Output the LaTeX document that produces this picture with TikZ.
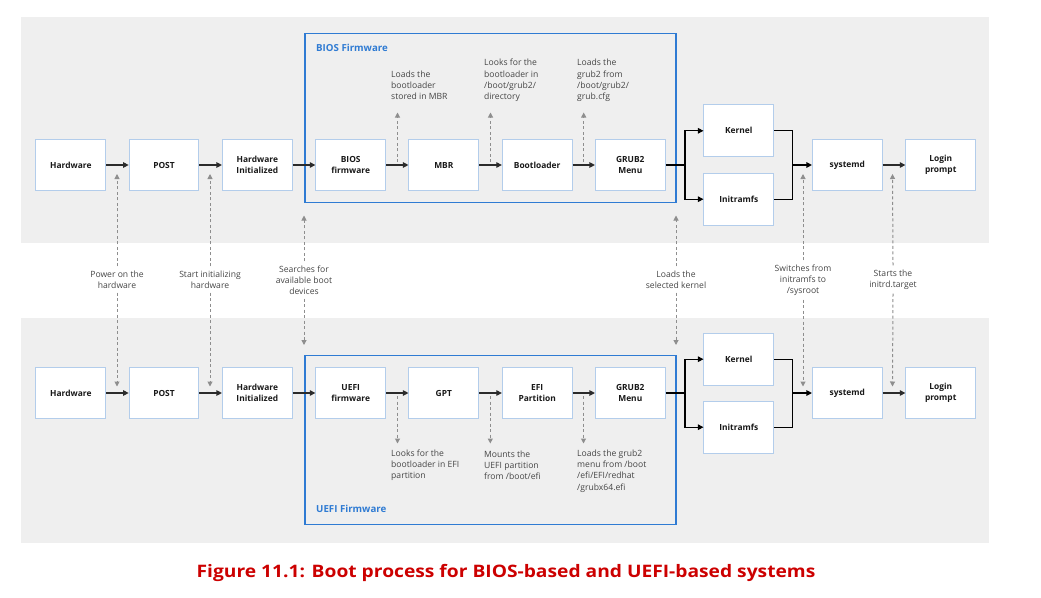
\documentclass[tikz,border=0pt]{standalone}
\usepackage{fontspec}
\setmainfont{Open Sans}
\usetikzlibrary{arrows.meta}
\definecolor{panel}{HTML}{EFEFEF}
\definecolor{boxline}{HTML}{B3CDEB}
\definecolor{frameblue}{HTML}{2F7BD3}
\definecolor{darkline}{HTML}{2B2B2B}
\definecolor{dashgray}{HTML}{8E8E8E}
\definecolor{labelgray}{HTML}{454545}
\definecolor{capred}{HTML}{CC0000}
\tikzset{
 stepbox/.style={draw=boxline, fill=white, line width=1pt, minimum width=69.7pt, minimum height=51.7pt, inner sep=0pt, align=center, font=\fontsize{8.4}{11}\selectfont\bfseries, text=black!90},
 flow/.style={draw=darkline, line width=1.1pt, -{Triangle[length=5.5pt,width=5.5pt]}},
 branch/.style={draw=black, line width=1.2pt},
 hint/.style={draw=dashgray, line width=1pt, dash pattern=on 3pt off 2.5pt, -{Triangle[length=5pt,width=5pt]}},
 note/.style={font=\fontsize{8.6}{11.2}\selectfont, text=labelgray, inner xsep=0pt, inner ysep=4pt},
 sidenote/.style={font=\fontsize{8.6}{11.2}\selectfont, text=labelgray, inner sep=0pt, anchor=west, align=left},
 frame/.style={draw=frameblue, line width=1.3pt},
 framelabel/.style={font=\fontsize{9.7}{11}\selectfont\bfseries, text=frameblue, anchor=west, inner sep=0pt},
 panelbg/.style={fill=panel, draw=none},
}
\begin{document}
\begin{tikzpicture}[x=1pt,y=-1pt]
\useasboundingbox (0,0) rectangle (1041,597);
% panels
\fill[panelbg] (21,17) rectangle (989,242.5);
\fill[panelbg] (21,318) rectangle (989,543);
% frames
\draw[frame] (305,33.5) rectangle (676,202.7);
\draw[frame] (305,355.3) rectangle (676,524.3);
\node[framelabel] (biosl) at (316,48) {BIOS Firmware};
\node[framelabel] (uefil) at (316,509) {UEFI Firmware};

% ---------- top row ----------
\node[stepbox] (hw1)   at (70.8,165)  {Hardware};
\node[stepbox] (post1) at (164,165)   {POST};
\node[stepbox] (hwi1)  at (257.3,165) {Hardware\\Initialized};
\node[stepbox] (bios1) at (350.7,165) {BIOS\\firmware};
\node[stepbox] (mbr1)  at (443.8,165) {MBR};
\node[stepbox] (boot1) at (537.2,165) {Bootloader};
\node[stepbox] (grub1) at (630.3,165) {GRUB2\\Menu};
\node[stepbox] (kern1) at (738.8,130.8) {Kernel};
\node[stepbox] (init1) at (738.8,199.2) {Initramfs};
\node[stepbox] (sysd1) at (847.3,165) {systemd};
\node[stepbox] (login1) at (940.7,165) {Login\\prompt};

\draw[flow] (hw1) -- (post1);
\draw[flow] (post1) -- (hwi1);
\draw[flow] (hwi1) -- (bios1);
\draw[flow] (bios1) -- (mbr1);
\draw[flow] (mbr1) -- (boot1);
\draw[flow] (boot1) -- (grub1);
\coordinate (ja1) at (685,165);
\coordinate (jb1) at (792.7,165);
\draw[branch] (grub1.east) -- (ja1);
\draw[flow,draw=black,line width=1.2pt] (ja1) |- (kern1.west);
\draw[flow,draw=black,line width=1.2pt] (ja1) |- (init1.west);
\draw[branch] (kern1.east) -| (jb1);
\draw[branch] (init1.east) -| (jb1);
\draw[flow,draw=black,line width=1.2pt] (jb1) -- (sysd1.west);
\draw[flow] (sysd1) -- (login1);

% top side notes
\node[sidenote] (n1) at (391,85.5) {Loads the\\bootloader\\stored in MBR};
\node[sidenote] (n2) at (484,80.5) {Looks for the\\bootloader in\\/boot/grub2/\\directory};
\node[sidenote] (n3) at (577,80.5) {Loads the\\grub2 from\\/boot/grub2/\\grub.cfg};
\coordinate (s1) at (397.5,162); \coordinate (e1) at (397.5,112.5);
\coordinate (s2) at (490.5,162); \coordinate (e2) at (490.5,112.5);
\coordinate (s3) at (583.7,162); \coordinate (e3) at (583.7,112.5);
\draw[hint] (s1) -- (e1);
\draw[hint] (s2) -- (e2);
\draw[hint] (s3) -- (e3);

% ---------- bottom row ----------
\node[stepbox] (hw2)   at (70.8,393)  {Hardware};
\node[stepbox] (post2) at (164,393)   {POST};
\node[stepbox] (hwi2)  at (257.3,393) {Hardware\\Initialized};
\node[stepbox] (uefi2) at (350.7,393) {UEFI\\firmware};
\node[stepbox] (gpt2)  at (443.8,393) {GPT};
\node[stepbox] (efi2)  at (537.2,393) {EFI\\Partition};
\node[stepbox] (grub2) at (630.3,393) {GRUB2\\Menu};
\node[stepbox] (kern2) at (738.8,359.2) {Kernel};
\node[stepbox] (init2) at (738.8,427.2) {Initramfs};
\node[stepbox] (sysd2) at (847.3,393) {systemd};
\node[stepbox] (login2) at (940.7,393) {Login\\prompt};

\draw[flow] (hw2) -- (post2);
\draw[flow] (post2) -- (hwi2);
\draw[flow] (hwi2) -- (uefi2);
\draw[flow] (uefi2) -- (gpt2);
\draw[flow] (gpt2) -- (efi2);
\draw[flow] (efi2) -- (grub2);
\coordinate (ja2) at (685,393);
\coordinate (jb2) at (792.7,393);
\draw[branch] (grub2.east) -- (ja2);
\draw[flow,draw=black,line width=1.2pt] (ja2) |- (kern2.west);
\draw[flow,draw=black,line width=1.2pt] (ja2) |- (init2.west);
\draw[branch] (kern2.east) -| (jb2);
\draw[branch] (init2.east) -| (jb2);
\draw[flow,draw=black,line width=1.2pt] (jb2) -- (sysd2.west);
\draw[flow] (sysd2) -- (login2);

% bottom side notes
\node[sidenote] (n4) at (391,465.5) {Looks for the\\bootloader in EFI\\partition};
\node[sidenote] (n5) at (484,465.5) {Mounts the\\UEFI partition\\from /boot/efi};
\node[sidenote] (n6) at (577,471) {Loads the grub2\\menu from /boot\\/efi/EFI/redhat\\/grubx64.efi};
\coordinate (s4) at (397.5,396); \coordinate (e4) at (397.5,443.5);
\coordinate (s5) at (490.3,396); \coordinate (e5) at (490.3,443.5);
\coordinate (s6) at (583.5,396); \coordinate (e6) at (583.5,443.5);
\draw[hint] (s4) -- (e4);
\draw[hint] (s5) -- (e5);
\draw[hint] (s6) -- (e6);

% ---------- middle notes ----------
\node[note,align=center] (m1) at (117,279.5) {Power on the\\hardware};
\node[note,align=center] (m2) at (210,279.5) {Start initializing\\hardware};
\node[note,align=center] (m3) at (304,280) {Searches for\\available boot\\devices};
\node[note,align=center] (m4) at (676,279.5) {Loads the\\selected kernel};
\node[note,align=center] (m5) at (803,280) {Switches from\\initramfs to\\/sysroot};
\node[note,align=center] (m6) at (893,279.5) {Starts the\\initrd.target};
\coordinate (u1) at (117,174);  \coordinate (d1) at (117,386.5);
\coordinate (u2) at (210,174);  \coordinate (d2) at (210,386.5);
\coordinate (u3) at (304,215.5);  \coordinate (d3) at (304,345);
\coordinate (u4) at (676,215.5);  \coordinate (d4) at (676,345);
\coordinate (u5) at (803,174);  \coordinate (d5) at (803,386.5);
\coordinate (u6) at (892.5,174);  \coordinate (d6) at (892.5,386.5);
\foreach \i in {1,...,6}{
  \draw[hint] (m\i.north) -- (u\i);
  \draw[hint] (m\i.south) -- (d\i);
}

% caption
\node[font=\fontsize{17.2}{20}\selectfont\bfseries, text=capred, inner sep=0pt] (cap) at (506,573) {\scalebox{1.117}[1]{Figure 11.1: Boot process for BIOS-based and UEFI-based systems}};
\end{tikzpicture}
\end{document}
